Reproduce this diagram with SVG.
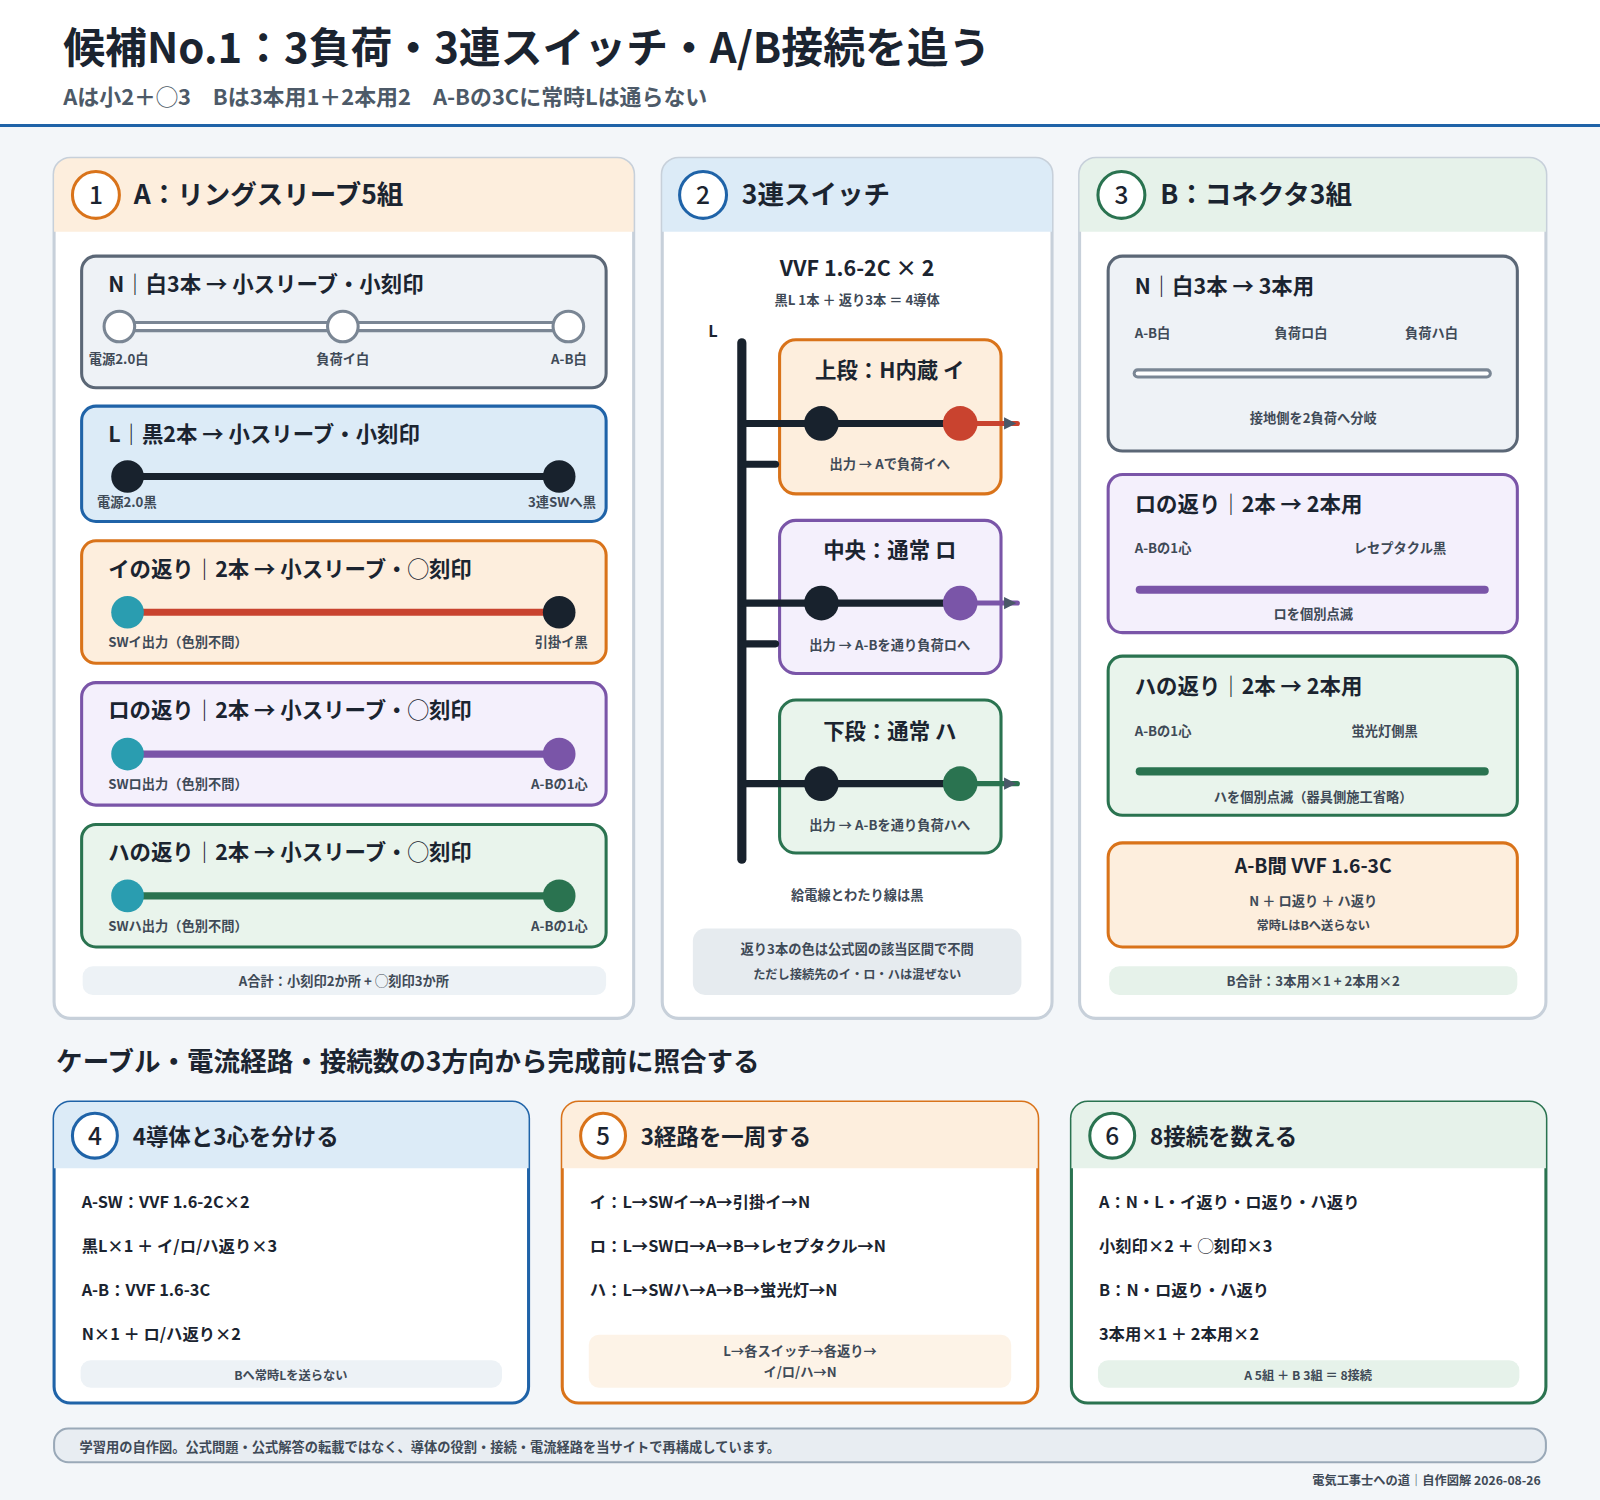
<svg xmlns="http://www.w3.org/2000/svg" width="1600" height="1500" viewBox="0 0 1600 1500">
<style>
text{font-family:"Noto Sans CJK JP","Noto Sans",sans-serif;fill:#1b2430;font-weight:700}
.t{font-size:21px}.s{font-size:13px;fill:#3f4a57}.m{font-size:16px;fill:#1b2430}
.c{text-anchor:middle}.e{text-anchor:end}
.num{font-size:24px;text-anchor:middle;font-weight:500}
.pt{font-size:26px}
</style>
<defs>
<marker id="ah" markerUnits="userSpaceOnUse" markerWidth="14" markerHeight="12" refX="4" refY="6" orient="auto"><path d="M0,0L14,6L0,12z" fill="#4a5868"/></marker>
</defs>
<rect width="1600" height="1500" fill="#f3f6f9"/>
<g transform="scale(1.0204)">
<rect width="1568" height="123" fill="#fff"/>
<line x1="0" y1="123" x2="1568" y2="123" stroke="#1f63a8" stroke-width="3"/>
<text x="62" y="62" style="font-size:41px">候補No.1：3負荷・3連スイッチ・A/B接続を追う</text>
<text x="62" y="103" style="font-size:21.5px;fill:#4d5a68">Aは小2＋◯3　Bは3本用1＋2本用2　A-Bの3Cに常時Lは通らない</text>

<!-- Panel 1 -->
<g id="panel1">
<rect x="53" y="155" width="568" height="843" rx="16" fill="#fff" stroke="#c7d0da" stroke-width="3"/>
<path d="M69,155H605a16,16 0 0 1 16,16V227H53V171a16,16 0 0 1 16,-16z" fill="#fdeedd"/>
<circle cx="94" cy="191" r="23" fill="#fff" stroke="#d9731a" stroke-width="3"/><text x="94" y="200" class="num">1</text>
<text x="131" y="200" class="pt">A：リングスリーブ5組</text>
<g id="a-n">
<rect x="80" y="251" width="514" height="129" rx="14" fill="#eef2f6" stroke="#5b6776" stroke-width="3"/>
<text x="106" y="286" class="t">N｜白3本 → 小スリーブ・小刻印</text>
<line x1="117" y1="320" x2="557" y2="320" stroke="#7a8694" stroke-width="11"/>
<line x1="117" y1="320" x2="557" y2="320" stroke="#fff" stroke-width="5"/>
<g fill="#fff" stroke="#7a8694" stroke-width="3"><circle cx="117" cy="320" r="15"/><circle cx="336" cy="320" r="15"/><circle cx="557" cy="320" r="15"/></g>
<text x="87" y="357" class="s">電源2.0白</text><text x="336" y="357" class="s c">負荷イ白</text><text x="575" y="357" class="s e">A-B白</text>
</g>
<g id="a-l">
<rect x="80" y="398" width="514" height="113" rx="14" fill="#dcebf7" stroke="#1f63a8" stroke-width="3"/>
<text x="106" y="433" class="t">L｜黒2本 → 小スリーブ・小刻印</text>
<line x1="125" y1="467" x2="548" y2="467" stroke="#18222d" stroke-width="7"/>
<circle cx="125" cy="467" r="16" fill="#18222d"/><circle cx="548" cy="467" r="16" fill="#18222d"/>
<text x="95" y="497" class="s">電源2.0黒</text><text x="584" y="497" class="s e">3連SWへ黒</text>
</g>
<g id="a-i">
<rect x="80" y="530" width="514" height="120" rx="14" fill="#fdeedd" stroke="#d9731a" stroke-width="3"/>
<text x="106" y="565" class="t">イの返り｜2本 → 小スリーブ・◯刻印</text>
<line x1="125" y1="600" x2="548" y2="600" stroke="#c9432f" stroke-width="7"/>
<circle cx="125" cy="600" r="16" fill="#2a9db0"/><circle cx="548" cy="600" r="16" fill="#18222d"/>
<text x="106" y="634" class="s">SWイ出力（色別不問）</text><text x="576" y="634" class="s e">引掛イ黒</text>
</g>
<g id="a-ro">
<rect x="80" y="669" width="514" height="120" rx="14" fill="#f4f0fc" stroke="#7a55a8" stroke-width="3"/>
<text x="106" y="704" class="t">ロの返り｜2本 → 小スリーブ・◯刻印</text>
<line x1="125" y1="739" x2="548" y2="739" stroke="#7a55a8" stroke-width="7"/>
<circle cx="125" cy="739" r="16" fill="#2a9db0"/><circle cx="548" cy="739" r="16" fill="#7a55a8"/>
<text x="106" y="773" class="s">SWロ出力（色別不問）</text><text x="576" y="773" class="s e">A-Bの1心</text>
</g>
<g id="a-ha">
<rect x="80" y="808" width="514" height="120" rx="14" fill="#e9f4ec" stroke="#2a7350" stroke-width="3"/>
<text x="106" y="843" class="t">ハの返り｜2本 → 小スリーブ・◯刻印</text>
<line x1="125" y1="878" x2="548" y2="878" stroke="#2a7350" stroke-width="7"/>
<circle cx="125" cy="878" r="16" fill="#2a9db0"/><circle cx="548" cy="878" r="16" fill="#2a7350"/>
<text x="106" y="912" class="s">SWハ出力（色別不問）</text><text x="576" y="912" class="s e">A-Bの1心</text>
</g>
<rect x="81" y="947" width="513" height="28" rx="10" fill="#edf2f6"/>
<text x="337" y="966" class="s c">A合計：小刻印2か所 + ◯刻印3か所</text>
</g>

<!-- Panel 2 -->
<g id="panel2">
<rect x="649" y="155" width="382" height="843" rx="16" fill="#fff" stroke="#c7d0da" stroke-width="3"/>
<path d="M665,155H1015a16,16 0 0 1 16,16V227H649V171a16,16 0 0 1 16,-16z" fill="#dcebf7"/>
<circle cx="689" cy="191" r="23" fill="#fff" stroke="#1f63a8" stroke-width="3"/><text x="689" y="200" class="num">2</text>
<text x="727" y="200" class="pt">3連スイッチ</text>
<text x="840" y="270" class="t c">VVF 1.6-2C × 2</text>
<text x="840" y="299" class="s c">黒L 1本 ＋ 返り3本 ＝ 4導体</text>
<text x="694" y="330" style="font-size:16px">L</text>
<g id="sw-top">
<rect x="764" y="333" width="217" height="151" rx="16" fill="#fdeedd" stroke="#d9731a" stroke-width="3"/>
<text x="872" y="370" class="t c">上段：H内蔵 イ</text>
<text x="872" y="460" class="s c">出力 → Aで負荷イへ</text>
</g>
<g id="sw-mid">
<rect x="764" y="510" width="217" height="150" rx="16" fill="#f4f0fc" stroke="#7a55a8" stroke-width="3"/>
<text x="872" y="547" class="t c">中央：通常 ロ</text>
<text x="872" y="637" class="s c">出力 → A-Bを通り負荷ロへ</text>
</g>
<g id="sw-bot">
<rect x="764" y="686" width="217" height="150" rx="16" fill="#e9f4ec" stroke="#2a7350" stroke-width="3"/>
<text x="872" y="724" class="t c">下段：通常 ハ</text>
<text x="872" y="813" class="s c">出力 → A-Bを通り負荷ハへ</text>
</g>
<g id="connectors" stroke-linecap="round">
<line x1="727" y1="336" x2="727" y2="842" stroke="#18222d" stroke-width="9"/>
<line x1="727" y1="455" x2="760" y2="455" stroke="#18222d" stroke-width="7"/>
<line x1="727" y1="631" x2="760" y2="631" stroke="#18222d" stroke-width="7"/>
<line x1="727" y1="415" x2="935" y2="415" stroke="#18222d" stroke-width="7"/>
<line x1="941" y1="415" x2="997" y2="415" stroke="#c9432f" stroke-width="5"/>
<line x1="941" y1="591" x2="997" y2="591" stroke="#7a55a8" stroke-width="5"/>
<line x1="941" y1="768" x2="997" y2="768" stroke="#2a7350" stroke-width="5"/>
<line x1="727" y1="591" x2="935" y2="591" stroke="#18222d" stroke-width="7"/>
<line x1="727" y1="768" x2="935" y2="768" stroke="#18222d" stroke-width="7"/>
<path d="M984,409L996,415L984,421z M984,585L996,591L984,597z M984,762L996,768L984,774z" fill="#4a5868"/>
<circle cx="805" cy="415" r="17" fill="#18222d"/><circle cx="941" cy="415" r="17" fill="#c9432f"/>
<circle cx="805" cy="591" r="17" fill="#18222d"/><circle cx="941" cy="591" r="17" fill="#7a55a8"/>
<circle cx="805" cy="768" r="17" fill="#18222d"/><circle cx="941" cy="768" r="17" fill="#2a7350"/>
</g>
<text x="840" y="882" class="s c">給電線とわたり線は黒</text>
<rect x="679" y="910" width="322" height="65" rx="12" fill="#e6ebef"/>
<text x="840" y="935" class="s c">返り3本の色は公式図の該当区間で不問</text>
<text x="840" y="959" class="s c" style="font-size:12px">ただし接続先のイ・ロ・ハは混ぜない</text>
</g>

<!-- Panel 3 -->
<g id="panel3">
<rect x="1058" y="155" width="457" height="843" rx="16" fill="#fff" stroke="#c7d0da" stroke-width="3"/>
<path d="M1074,155H1499a16,16 0 0 1 16,16V227H1058V171a16,16 0 0 1 16,-16z" fill="#e6f2ea"/>
<circle cx="1099" cy="191" r="23" fill="#fff" stroke="#2a7350" stroke-width="3"/><text x="1099" y="200" class="num">3</text>
<text x="1137" y="200" class="pt">B：コネクタ3組</text>
<g id="b-n">
<rect x="1086" y="251" width="401" height="191" rx="14" fill="#eef2f6" stroke="#5b6776" stroke-width="3"/>
<text x="1112" y="288" class="t">N｜白3本 → 3本用</text>
<text x="1112" y="331" class="s">A-B白</text><text x="1275" y="331" class="s c">負荷ロ白</text><text x="1403" y="331" class="s c">負荷ハ白</text>
<line x1="1115" y1="366" x2="1457" y2="366" stroke="#7a8694" stroke-width="10" stroke-linecap="round"/>
<line x1="1115" y1="366" x2="1457" y2="366" stroke="#fff" stroke-width="4" stroke-linecap="round"/>
<text x="1287" y="415" class="s c">接地側を2負荷へ分岐</text>
</g>
<g id="b-ro">
<rect x="1086" y="465" width="401" height="155" rx="14" fill="#f4f0fc" stroke="#7a55a8" stroke-width="3"/>
<text x="1112" y="502" class="t">ロの返り｜2本 → 2本用</text>
<text x="1112" y="542" class="s">A-Bの1心</text><text x="1372" y="542" class="s c">レセプタクル黒</text>
<line x1="1117" y1="578" x2="1455" y2="578" stroke="#7a55a8" stroke-width="8" stroke-linecap="round"/>
<text x="1287" y="607" class="s c">ロを個別点滅</text>
</g>
<g id="b-ha">
<rect x="1086" y="643" width="401" height="156" rx="14" fill="#e9f4ec" stroke="#2a7350" stroke-width="3"/>
<text x="1112" y="680" class="t">ハの返り｜2本 → 2本用</text>
<text x="1112" y="721" class="s">A-Bの1心</text><text x="1357" y="721" class="s c">蛍光灯側黒</text>
<line x1="1117" y1="756" x2="1455" y2="756" stroke="#2a7350" stroke-width="8" stroke-linecap="round"/>
<text x="1287" y="786" class="s c">ハを個別点滅（器具側施工省略）</text>
</g>
<g id="b-ab">
<rect x="1086" y="826" width="401" height="102" rx="14" fill="#fdeedd" stroke="#d9731a" stroke-width="3"/>
<text x="1287" y="856" class="c" style="font-size:19px">A-B間 VVF 1.6-3C</text>
<text x="1287" y="888" class="s c">N ＋ ロ返り ＋ ハ返り</text>
<text x="1287" y="911" class="s c" style="font-size:12px">常時LはBへ送らない</text>
</g>
<rect x="1087" y="947" width="400" height="28" rx="10" fill="#e6f2ea"/>
<text x="1287" y="966" class="s c">B合計：3本用×1 + 2本用×2</text>
</g>

<text x="55" y="1050" style="font-size:26px">ケーブル・電流経路・接続数の3方向から完成前に照合する</text>

<g id="panel4">
<rect x="53" y="1080" width="465" height="295" rx="16" fill="#fff" stroke="#1f63a8" stroke-width="3"/>
<path d="M69,1080H502a16,16 0 0 1 16,16V1145H53V1096a16,16 0 0 1 16,-16z" fill="#dcebf7"/>
<circle cx="93" cy="1113" r="22" fill="#fff" stroke="#1f63a8" stroke-width="3"/><text x="93" y="1122" class="num">4</text>
<text x="130" y="1122" style="font-size:22px">4導体と3心を分ける</text>
<text x="80" y="1184" class="m">A-SW：VVF 1.6-2C×2</text>
<text x="80" y="1227" class="m">黒L×1 ＋ イ/ロ/ハ返り×3</text>
<text x="80" y="1270" class="m">A-B：VVF 1.6-3C</text>
<text x="80" y="1313" class="m">N×1 ＋ ロ/ハ返り×2</text>
<rect x="79" y="1333" width="413" height="27" rx="10" fill="#edf2f6"/>
<text x="285" y="1352" class="s c" style="font-size:12px">Bへ常時Lを送らない</text>
</g>
<g id="panel5">
<rect x="551" y="1080" width="466" height="295" rx="16" fill="#fff" stroke="#d9731a" stroke-width="3"/>
<path d="M567,1080H1001a16,16 0 0 1 16,16V1145H551V1096a16,16 0 0 1 16,-16z" fill="#fdeedd"/>
<circle cx="591" cy="1113" r="22" fill="#fff" stroke="#d9731a" stroke-width="3"/><text x="591" y="1122" class="num">5</text>
<text x="628" y="1122" style="font-size:22px">3経路を一周する</text>
<text x="578" y="1184" class="m">イ：L→SWイ→A→引掛イ→N</text>
<text x="578" y="1227" class="m">ロ：L→SWロ→A→B→レセプタクル→N</text>
<text x="578" y="1270" class="m">ハ：L→SWハ→A→B→蛍光灯→N</text>
<rect x="577" y="1308" width="414" height="52" rx="10" fill="#fdf3e7"/>
<text x="784" y="1329" class="s c">L→各スイッチ→各返り→</text>
<text x="784" y="1349" class="s c">イ/ロ/ハ→N</text>
</g>
<g id="panel6">
<rect x="1050" y="1080" width="465" height="295" rx="16" fill="#fff" stroke="#2a7350" stroke-width="3"/>
<path d="M1066,1080H1499a16,16 0 0 1 16,16V1145H1050V1096a16,16 0 0 1 16,-16z" fill="#e6f2ea"/>
<circle cx="1090" cy="1113" r="22" fill="#fff" stroke="#2a7350" stroke-width="3"/><text x="1090" y="1122" class="num">6</text>
<text x="1127" y="1122" style="font-size:22px">8接続を数える</text>
<text x="1077" y="1184" class="m">A：N・L・イ返り・ロ返り・ハ返り</text>
<text x="1077" y="1227" class="m">小刻印×2 ＋ ◯刻印×3</text>
<text x="1077" y="1270" class="m">B：N・ロ返り・ハ返り</text>
<text x="1077" y="1313" class="m">3本用×1 ＋ 2本用×2</text>
<rect x="1076" y="1333" width="413" height="27" rx="10" fill="#e6f2ea"/>
<text x="1282" y="1352" class="s c" style="font-size:12px">A 5組 ＋ B 3組 ＝ 8接続</text>
</g>
<rect x="53" y="1400" width="1462" height="33" rx="14" fill="#e8edf2" stroke="#9aa9b8" stroke-width="2"/>
<text x="78" y="1423" class="s">学習用の自作図。公式問題・公式解答の転載ではなく、導体の役割・接続・電流経路を当サイトで再構成しています。</text>
<text x="1510" y="1455" class="s e" style="font-size:12px">電気工事士への道｜自作図解 2026-08-26</text>
</g>
</svg>
